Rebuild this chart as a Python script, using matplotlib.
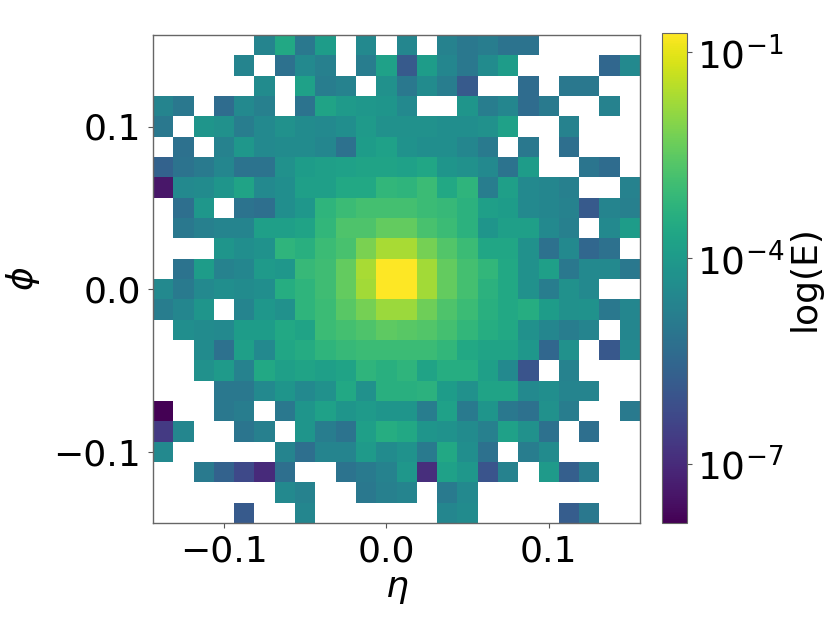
import numpy as np
import matplotlib
matplotlib.use("Agg")
import matplotlib.pyplot as plt
from matplotlib.colors import LogNorm

n = None
# Position of each cell's log10(E) between the colour limits, top row first
row00 = [n,n,n,n,n,.45,.60,.40,.55,n,.47,n,.46,n,.44,.40,.42,.38,.38,n,n,n,n,n]
row01 = [n,n,n,n,.45,n,.37,.47,.43,n,.42,.57,.28,.55,.46,.40,.48,.55,n,n,n,n,.33,.47]
row02 = [n,n,n,n,n,.48,n,.57,.42,.44,n,.50,.40,.48,.42,.28,n,n,.35,n,.40,.40,n,n]
row03 = [.45,.40,n,.35,.47,.43,n,.38,.58,.54,.53,.52,.47,n,n,.52,.42,.46,.35,.41,n,n,.44,n]
row04 = [.40,n,.52,.50,.42,.47,.50,.48,.47,.49,.54,.50,.50,.50,.49,.49,.50,.57,n,n,.44,n,n,n]
row05 = [n,.37,n,.44,.53,.47,.48,.48,.46,.37,.55,.57,.51,.49,.49,.46,.41,n,.40,n,.36,n,n,n]
row06 = [.31,.38,.41,.46,.38,.38,.50,.55,.56,.57,.58,.58,.57,.59,.52,.50,.47,.38,.55,n,n,.39,.35,n]
row07 = [.06,.47,.48,.52,.58,.47,.49,.56,.56,.60,.60,.66,.65,.68,.60,.65,.42,.56,.47,.46,.43,n,n,.44]
row08 = [n,.36,.53,n,.38,.36,.49,.53,.65,.68,.70,.70,.70,.68,.67,.64,.56,.55,.47,.46,.44,.28,.45,.43]
row09 = [n,.40,.43,.45,.45,.56,.56,.58,.66,.72,.72,.76,.76,.71,.68,.64,.52,.56,.56,.47,.43,n,.47,.55]
row10 = [n,n,n,.52,.49,.51,.65,.63,.68,.71,.80,.87,.87,.79,.73,.68,.59,.59,.50,.37,.47,.33,.37,n]
row11 = [n,.38,.55,.44,.46,.54,.53,.67,.69,.76,.87,1.0,1.0,.86,.76,.70,.66,.60,.50,.56,.40,.47,.47,.40]
row12 = [.47,.41,.47,.49,.48,.49,.62,.65,.69,.76,.86,1.0,1.0,.86,.76,.70,.64,.60,.50,.42,.50,.47,n,n]
row13 = [.42,.46,.52,n,.45,.53,.50,.65,.68,.74,.79,.85,.85,.78,.72,.68,.63,.60,.62,.55,.50,.51,.40,.46]
row14 = [n,.49,.48,.47,.55,.55,.60,.58,.68,.70,.72,.75,.74,.73,.70,.66,.62,.60,.50,.46,.42,.45,n,.46]
row15 = [n,n,.48,.37,.56,.47,.59,.61,.65,.67,.68,.68,.68,.68,.66,.60,.58,.58,.53,.33,.50,n,.27,.47]
row16 = [n,n,.50,.54,.44,.60,.56,.58,.56,.58,.65,.63,.65,.58,.62,.62,.56,.47,.26,n,.44,n,n,n]
row17 = [n,n,n,.40,.40,.47,.52,.47,.50,.60,.50,.63,.63,.64,.55,.50,.58,.58,.47,.49,.45,.45,n,n]
row18 = [.00,n,n,.40,.42,n,.40,.52,.57,.52,.54,.52,.52,.42,.57,.41,.52,.40,.37,.50,.42,n,n,.41]
row19 = [.17,.46,n,n,.39,.43,n,.52,.42,.38,.56,.62,.60,.52,.51,.48,.43,.57,.50,.37,n,.36,n,n]
row20 = [.47,n,n,n,n,n,.45,.36,.45,.45,.54,.48,.51,.41,.60,.49,.37,n,.42,.48,n,n,n,n]
row21 = [n,n,.41,.31,.22,.12,.36,n,n,.38,.41,.44,.53,.13,.57,.53,.26,.44,n,.54,.30,.42,n,n]
row22 = [n,n,n,n,n,n,.47,.44,n,n,.40,.43,.45,n,.41,.47,n,n,n,n,n,n,n,n]
row23 = [n,n,n,n,.28,n,n,.46,n,n,n,n,n,n,.46,.48,n,n,n,n,.29,.40,n,n]
rows = [row00,row01,row02,row03,row04,row05,row06,row07,row08,row09,row10,row11,
        row12,row13,row14,row15,row16,row17,row18,row19,row20,row21,row22,row23]

log_min, log_max = -7.86, -0.72
eta_edges = np.linspace(-0.14375, 0.15625, 25)
phi_edges = np.linspace(0.15625, -0.14375, 25)
eta_ticks = [-0.1, 0.0, 0.1]
phi_ticks = [-0.1, 0.0, 0.1]
cbar_ticks = [1e-7, 1e-4, 1e-1]

pos = np.array(rows, dtype=float)
E = np.ma.masked_invalid(10 ** (log_min + pos * (log_max - log_min)))

W, H = 830, 642
fig = plt.figure(figsize=(W / 100, H / 100), dpi=100)
ax = fig.add_axes([153 / W, 1 - 523 / H, 487 / W, 488 / H])
cax = fig.add_axes([662 / W, 1 - 523 / H, 25 / W, 490 / H])

mesh = ax.pcolormesh(eta_edges, phi_edges, E, cmap="viridis",
                     norm=LogNorm(10 ** log_min, 10 ** log_max))
ax.set_xticks(eta_ticks)
ax.set_yticks(phi_ticks)
ax.tick_params(labelsize=26, length=3.5, width=0.8, color="#555555", pad=5)
ax.set_xlabel(r"$\eta$", fontsize=26, labelpad=2)
ax.set_ylabel(r"$\phi$", fontsize=26, labelpad=8)
for s in ax.spines.values():
    s.set_color("#666666")
    s.set_linewidth(1.0)

cb = fig.colorbar(mesh, cax=cax)
cb.set_ticks(cbar_ticks)
cb.minorticks_off()
cb.ax.tick_params(labelsize=27, length=3.5, width=0.8, color="#555555", pad=4)
cb.set_label("log(E)", fontsize=26, labelpad=2)
cb.outline.set_edgecolor("#666666")
cb.outline.set_linewidth(0.8)

fig.savefig("out.png", dpi=100)
